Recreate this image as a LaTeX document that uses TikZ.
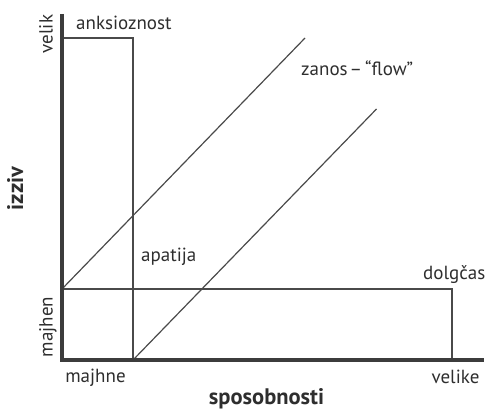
\documentclass[tikz,border=0pt]{standalone}
\usepackage{fontspec}
\setmainfont{PT Sans}
\definecolor{ink}{HTML}{2E2E2E}
\definecolor{axisc}{HTML}{3C3C3C}
\definecolor{linec}{HTML}{4A4A4A}
\begin{document}
\begin{tikzpicture}[x=1pt,y=-1pt,
  lbl/.style={inner sep=0pt,text=ink,font=\fontsize{19}{21}\selectfont},
  blbl/.style={inner sep=0pt,text=ink,font=\fontsize{22.5}{24}\selectfont\bfseries},
  axisline/.style={draw=axisc,line width=3.4pt},
  thin/.style={draw=linec,line width=1.2pt},
  rectline/.style={draw=linec,line width=1.5pt}]
\useasboundingbox (0,0) rectangle (486,409);
% coordinates
\coordinate (O) at (62,360);
\coordinate (ytop) at (62,14);
\coordinate (xend) at (483.5,360);
\coordinate (aTL) at (62,38);
\coordinate (aTR) at (133,38);
\coordinate (aBR) at (133,360);
\coordinate (dTL) at (62,289);
\coordinate (dTR) at (452,289);
\coordinate (dBR) at (452,360);
\coordinate (f1e) at (305,38);
\coordinate (f2e) at (376.5,109);
% rectangles
\draw[rectline] (aTL) -- (aTR) -- (aBR);
\draw[rectline] (dTL) -- (dTR) -- (dBR);
% flow channel
\draw[thin] (dTL) -- (f1e);
\draw[thin] (aBR) -- (f2e);
% axes
\draw[axisline] (ytop) -- (O) -- (xend);
% labels
\node[lbl,anchor=base west] (anks) at (76,30) {anksioznost};
\node[lbl,anchor=base west] (apat) at (141,261.5) {apatija};
\node[lbl,anchor=base west] (dolg) at (423,279) {dolgčas};
\node[lbl,anchor=base west] (flow) at (301,76) {zanos\kern2pt–\kern3pt“flow”};
\node[lbl,anchor=base] (majhne) at (95.5,382) {majhne};
\node[lbl,anchor=base] (velike) at (455.5,383) {velike};
\node[lbl,rotate=90,anchor=base] (velik) at (52.5,34) {velik};
\node[lbl,rotate=90,anchor=base] (majhen) at (52.5,327) {majhen};
\node[blbl,anchor=base] (spos) at (266.5,404) {sposobnosti};
\node[blbl,rotate=90,anchor=base] (izziv) at (23,188.5) {izziv};
\end{tikzpicture}
\end{document}
